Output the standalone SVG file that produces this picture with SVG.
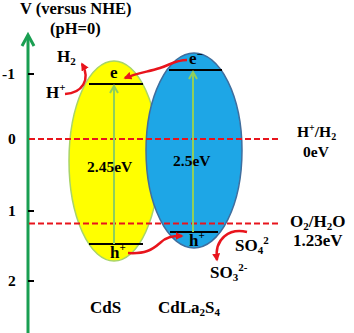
<svg xmlns="http://www.w3.org/2000/svg" width="354" height="333" viewBox="0 0 354 333" font-family="'Liberation Serif', 'Times New Roman', 'DejaVu Serif', serif" font-weight="bold">
<defs>
<style>
text{font-family:'Liberation Serif','Times New Roman','DejaVu Serif',serif;font-weight:bold;fill:#000}
.t16{font-size:16.5px}
.t15{font-size:15.5px}
.t17{font-size:17px}
.dash{stroke:#e8141c;stroke-width:2;stroke-dasharray:6 3;fill:none}
.red{stroke:#e8141c;stroke-width:2.5;fill:none;marker-end:url(#rh)}
.gap{stroke:#8fcf5c;stroke-width:2;fill:none}
.band{stroke:#000;stroke-width:2}
.tick{stroke:#000;stroke-width:2}
</style>
<marker id="rh" viewBox="0 0 10 10" refX="8" refY="5" markerWidth="3.2" markerHeight="3.2" orient="auto" markerUnits="strokeWidth">
<path d="M0,0 L10,5 L0,10 Z" fill="#e8141c"/>
</marker>
</defs>
<rect width="354" height="333" fill="#fff"/>

<g id="axis">
<line x1="28" y1="333" x2="28" y2="36" stroke="#1a9f52" stroke-width="3"/>
<polyline points="22,46 28,35 34,46" stroke="#1a9f52" stroke-width="3" fill="none"/>
<line class="tick" x1="28" y1="74" x2="34" y2="74"/>
<line class="tick" x1="28" y1="211" x2="34" y2="211"/>
<line class="tick" x1="28" y1="281" x2="34" y2="281"/>
<text class="t15" x="2" y="79">-1</text>
<text class="t15" x="8" y="144">0</text>
<text class="t15" x="8" y="216">1</text>
<text class="t15" x="8" y="286">2</text>
<text class="t16" x="20" y="14">V (versus NHE)</text>
<text class="t16" x="50" y="34">(pH=0)</text>
</g>

<g id="CdS">
<ellipse cx="114" cy="161" rx="45" ry="100" fill="#ffff00" stroke="#a8d468" stroke-width="1.5"/>
<line class="band" x1="89" y1="84" x2="143" y2="84"/>
<line class="band" x1="89" y1="244" x2="143" y2="244"/>
</g>

<g id="CdLa2S4">
<ellipse cx="194" cy="150.5" rx="48" ry="97.5" fill="#1ea6e6" stroke="#3f6e9e" stroke-width="1.5"/>
<line class="band" x1="169" y1="70" x2="222" y2="70"/>
<line class="band" x1="170" y1="232" x2="218" y2="232"/>
</g>

<g id="levels">
<line class="dash" x1="29" y1="139" x2="280" y2="139"/>
<line class="dash" x1="29" y1="223.5" x2="280" y2="223.5"/>
</g>

<g id="connectors">
<line class="gap" x1="114" y1="244" x2="114" y2="86"/>
<polyline class="gap" points="110,93 114,86 118,93"/>
<line class="gap" x1="193" y1="232" x2="193" y2="72"/>
<polyline class="gap" points="189,79 193,72 197,79"/>
<path class="red" d="M65,94 C82,93 91,80 82,64"/>
<path class="red" d="M187,60 C175,60 170,65 160,68 C148,72 140,72 125,78"/>
<path class="red" d="M128,253 C145,254 152,250 160,243 C166,237 172,236 182,236"/>
<path class="red" d="M247,232 C230,228 214,238 217,260"/>
</g>

<g id="labels">
<text class="t17" x="110" y="78">e</text>
<text class="t17" x="189" y="64">e<tspan font-size="11" dy="-6">−</tspan></text>
<text class="t17" x="110" y="258">h<tspan font-size="11" dy="-7">+</tspan></text>
<text class="t17" x="189" y="246">h<tspan font-size="11" dy="-7">+</tspan></text>
<text class="t15" x="87" y="172">2.45eV</text>
<text class="t15" x="173" y="166">2.5eV</text>
<text class="t17" x="57" y="62">H<tspan font-size="11" dy="3">2</tspan></text>
<text class="t17" x="46" y="98">H<tspan font-size="11" dy="-7">+</tspan></text>
<text class="t15" x="297" y="137">H<tspan font-size="10" dy="-6">+</tspan><tspan dy="6">/H</tspan><tspan font-size="10" dy="3">2</tspan></text>
<text class="t15" x="303" y="157">0eV</text>
<text class="t17" x="290" y="227" font-size="18">O<tspan font-size="11" dy="3">2</tspan><tspan dy="-3">/H</tspan><tspan font-size="11" dy="3">2</tspan><tspan dy="-3">O</tspan></text>
<text class="t17" x="293" y="246">1.23eV</text>
<text class="t17" x="235" y="251">SO<tspan font-size="11" dy="3">4</tspan><tspan font-size="11" dy="-10">2</tspan></text>
<text class="t17" x="210" y="278">SO<tspan font-size="11" dy="3">3</tspan><tspan font-size="11" dy="-10">2-</tspan></text>
<text class="t17" x="90" y="313">CdS</text>
<text class="t17" x="158" y="313">CdLa<tspan font-size="11" dy="3">2</tspan><tspan dy="-3">S</tspan><tspan font-size="11" dy="3">4</tspan></text>
</g>
</svg>
